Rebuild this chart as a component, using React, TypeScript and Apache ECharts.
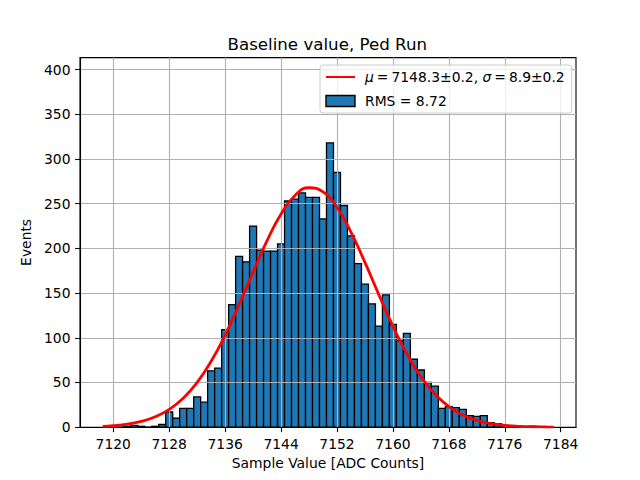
import React, { useEffect, useRef } from "react";
import * as echarts from "echarts";

// Histogram bins (centres, ADC counts) and counts
const binCenters = [
  7120, 7121, 7122, 7123, 7124, 7125, 7126, 7127, 7128, 7129,
  7130, 7131, 7132, 7133, 7134, 7135, 7136, 7137, 7138, 7139,
  7140, 7141, 7142, 7143, 7144, 7145, 7146, 7147, 7148, 7149,
  7150, 7151, 7152, 7153, 7154, 7155, 7156, 7157, 7158, 7159,
  7160, 7161, 7162, 7163, 7164, 7165, 7166, 7167, 7168, 7169,
  7170, 7171, 7172, 7173, 7174, 7175, 7176, 7177, 7178, 7179, 7180,
];
const binCounts = [
  1, 0, 1, 2, 1, 0, 1, 3, 17, 10,
  21, 21, 34, 28, 63, 66, 109, 137, 191, 185,
  225, 198, 197, 197, 205, 253, 255, 262, 257, 257,
  233, 318, 285, 248, 214, 183, 160, 138, 113, 148,
  115, 97, 105, 76, 64, 50, 46, 21, 23, 22,
  20, 13, 12, 13, 5, 4, 2, 1, 1, 0, 1,
];
const BIN_WIDTH = 1;

// Fitted curve, points
const fitX = [
  7118.5, 7120, 7122, 7124, 7126, 7128, 7130, 7132, 7134, 7136, 7138,
  7140, 7142, 7144, 7146, 7148, 7150, 7152, 7154, 7156, 7158, 7160,
  7162, 7164, 7166, 7168, 7170, 7172, 7174, 7176, 7178, 7180, 7182, 7183,
];
const fitY = [
  1.0, 1.7, 3.4, 6.4, 11.6, 19.9, 32.4, 50.1, 73.7, 103.1, 137.2,
  173.5, 208.6, 238.5, 259.2, 267.8, 263.2, 245.8, 218.3, 184.3, 148.0, 113.0,
  82.0, 56.5, 37.1, 23.1, 13.7, 7.7, 4.1, 2.1, 1.0, 0.5, 0.2, 0.1,
];

const xTicks = [7120, 7128, 7136, 7144, 7152, 7160, 7168, 7176, 7184];
const yTicks = [0, 50, 100, 150, 200, 250, 300, 350, 400];

const TITLE = "Baseline value, Ped Run";
const X_NAME = "Sample Value [ADC Counts]";
const Y_NAME = "Events";
const FIT_NAME = "μ = 7148.3±0.2, σ = 8.9±0.2";
const HIST_NAME = "RMS = 8.72";

const FONT = "DejaVu Sans";
const FS = 13.89;

export default function App() {
  const ref = useRef<HTMLDivElement>(null);

  useEffect(() => {
    if (!ref.current) return;
    const chart = echarts.init(ref.current, undefined, { renderer: "svg" });
    const histData = binCenters.map((c, i) => [c, binCounts[i]]);
    const fitData = fitX.map((x, i) => [x, fitY[i]]);

    chart.setOption({
      animation: false,
      backgroundColor: "#ffffff",
      textStyle: { fontFamily: FONT },
      title: {
        text: TITLE,
        left: 227.5,
        top: 36,
        padding: 0,
        textStyle: { fontFamily: FONT, fontSize: 16.67, fontWeight: "normal", color: "#000" },
      },
      grid: {
        left: 80,
        right: 64,
        top: 57.6,
        bottom: 52.8,
        show: true,
        borderColor: "#000",
        borderWidth: 1.1,
        backgroundColor: "transparent",
      },
      legend: {
        left: 320,
        top: 65,
        orient: "vertical",
        z: 10,
        selectedMode: false,
        itemWidth: 29,
        itemHeight: 11,
        itemGap: 8,
        padding: [4, 7, 4, 5],
        backgroundColor: "rgba(255,255,255,0.8)",
        borderColor: "#cccccc",
        borderWidth: 1,
        borderRadius: 3,
        formatter: (name: string) =>
          name === FIT_NAME
            ? name.replace(/ = /g, "{e|=}").replace(/([μσ])/g, "{i|$1}")
            : name,
        textStyle: {
          fontFamily: FONT,
          fontSize: FS,
          color: "#000",
          lineHeight: 16,
          padding: [0, 0, 0, 5],
          rich: {
            i: { fontFamily: FONT, fontSize: FS, fontStyle: "italic", color: "#000", lineHeight: 16 },
            e: { fontFamily: FONT, fontSize: FS, color: "#000", lineHeight: 16, padding: [0, 3, 0, 3] },
          },
        },
        data: [
          { name: FIT_NAME, itemStyle: { opacity: 0 } },
          {
            name: HIST_NAME,
            icon: "rect",
            itemStyle: { color: "#1f77b4", borderColor: "#000", borderWidth: 1.4 },
          },
        ],
      },
      xAxis: {
        type: "value",
        min: 7115.24,
        max: 7186.19,
        z: 3,
        name: X_NAME,
        nameLocation: "middle",
        nameGap: 28,
        nameTextStyle: { fontFamily: FONT, fontSize: FS, color: "#000" },
        axisLine: { show: true, onZero: false, lineStyle: { color: "#000", width: 1.1 } },
        axisTick: {
          show: true,
          inside: false,
          length: 4.9,
          customValues: xTicks,
          lineStyle: { color: "#000", width: 1.1 },
        },
        axisLabel: {
          customValues: xTicks,
          formatter: (v: number) => String(v),
          margin: 9.5,
          fontFamily: FONT,
          fontSize: FS,
          color: "#000",
        },
        splitLine: { show: true, lineStyle: { color: "#b0b0b0", width: 1.1 } },
      },
      yAxis: {
        type: "value",
        min: 0,
        max: 413.4,
        z: 3,
        name: Y_NAME,
        nameLocation: "middle",
        nameGap: 37,
        nameTextStyle: { fontFamily: FONT, fontSize: FS, color: "#000" },
        axisLine: { show: true, lineStyle: { color: "#000", width: 1.1 } },
        axisTick: {
          show: true,
          inside: false,
          length: 4.9,
          customValues: yTicks,
          lineStyle: { color: "#000", width: 1.1 },
        },
        axisLabel: {
          customValues: yTicks,
          formatter: (v: number) => String(v),
          margin: 9.5,
          fontFamily: FONT,
          fontSize: FS,
          color: "#000",
        },
        splitLine: { show: true, lineStyle: { color: "#b0b0b0", width: 1.1 } },
      },
      series: [
        {
          name: HIST_NAME,
          type: "custom",
          z: 2,
          itemStyle: { color: "#1f77b4", borderColor: "#000", borderWidth: 1.4 },
          encode: { x: 0, y: 1 },
          data: histData,
          renderItem: (params: any, api: any) => {
            const x = api.value(0);
            const y = api.value(1);
            const p0 = api.coord([x - BIN_WIDTH / 2, y]);
            const p1 = api.coord([x + BIN_WIDTH / 2, 0]);
            return {
              type: "rect",
              shape: { x: p0[0], y: p0[1], width: p1[0] - p0[0], height: p1[1] - p0[1] },
              style: { fill: "#1f77b4", stroke: "#000", lineWidth: 1.3 },
            };
          },
        },
        {
          name: FIT_NAME,
          type: "line",
          z: 5,
          symbol: "none",
          showSymbol: false,
          smooth: true,
          data: fitData,
          itemStyle: { color: "#ff0000" },
          lineStyle: { color: "#ff0000", width: 2.8 },
        },
      ],
    });

    return () => chart.dispose();
  }, []);

  return (
    <div
      ref={ref}
      style={{ position: "fixed", left: 0, top: 0, width: 640, height: 480 }}
    />
  );
}
